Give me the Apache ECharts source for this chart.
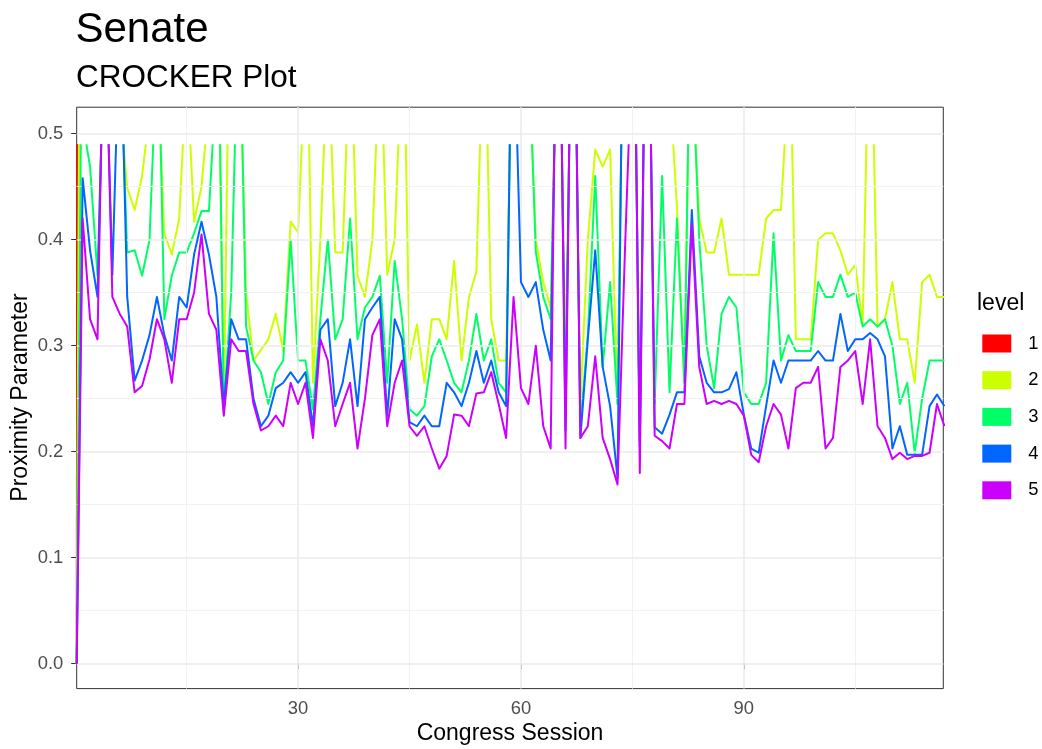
<!DOCTYPE html>
<html>
<head>
<meta charset="utf-8">
<script src="https://cdn.jsdelivr.net/npm/echarts@6/dist/echarts.min.js"></script>
<style>html,body{margin:0;padding:0;background:#fff}#c{width:1042px;height:749px}</style>
</head>
<body>
<div id="c"></div>
<script>
// ---- data ----
const levelNames = ['1', '2', '3', '4', '5'];
const levelColors = ['#FF0000', '#CCFF00', '#00FF66', '#0066FF', '#CC00FF'];
const T = 0.49;               // top of proximity grid (contour leaves the grid above this)
const contourStart = [0.2, 0]; // every contour enters at the left edge, proximity 0
const firstTopExit = [0.3, 0.5, 0.75, 0.5, 0.5]; // session where a level first leaves the top
// threshold per session (sessions 1..117), T = above the grid
const level1 = [T];
const level2 = [T,T,T,T,T,T,0.449,0.428,0.46,T,
  T,0.406,0.386,0.42,T,0.417,0.45,T,T,0.24,
  T,T,0.35,0.286,0.296,0.306,0.33,0.295,0.417,0.407,
  T,0.265,0.40,T,0.388,0.388,T,0.366,0.346,0.40,
  T,0.367,0.40,T,0.286,0.32,0.265,0.325,0.325,0.306,
  0.38,0.286,0.346,0.37,T,0.325,0.286,0.286,T,T,
  T,0.40,0.36,0.336,T,0.29,T,0.245,0.40,0.485,
  0.469,0.485,0.245,T,T,T,T,T,T,T,
  0.43,0.265,T,0.42,0.388,0.388,0.42,0.367,0.367,0.367,
  0.367,0.367,0.42,0.428,0.428,T,0.306,0.306,0.306,0.40,
  0.406,0.406,0.39,0.367,0.376,0.32,T,0.318,0.325,0.36,
  0.306,0.306,0.265,0.36,0.367,0.346,0.346];
const level3 = [T,0.469,0.366,T,T,T,0.388,0.39,0.366,0.40,
  T,0.325,0.366,0.388,0.388,0.406,0.427,0.427,T,0.24,
  0.35,T,0.318,0.286,0.275,0.245,0.275,0.286,0.40,0.286,
  0.286,0.24,0.325,0.40,0.306,0.325,0.42,0.306,0.336,0.346,
  0.366,0.265,0.38,0.325,0.24,0.234,0.243,0.29,0.306,0.286,
  0.265,0.256,0.286,0.33,0.286,0.306,0.265,0.256,T,T,
  T,0.388,0.346,0.325,T,0.256,T,0.224,0.31,0.46,
  0.28,0.36,0.245,T,T,0.21,T,0.245,0.46,0.256,
  0.42,0.265,T,0.40,0.30,0.26,0.33,0.346,0.336,0.256,
  0.245,0.245,0.265,0.406,0.286,0.31,0.295,0.295,0.295,0.36,
  0.346,0.346,0.367,0.346,0.35,0.318,0.325,0.318,0.325,0.30,
  0.245,0.265,0.199,0.25,0.286,0.286,0.286];
const level4 = [0.458,0.39,0.346,T,0.367,T,0.346,0.267,0.286,0.31,
  0.346,0.31,0.286,0.346,0.336,0.386,0.417,0.386,0.346,0.243,
  0.325,0.306,0.306,0.25,0.224,0.234,0.26,0.265,0.275,0.265,
  0.275,0.224,0.315,0.325,0.243,0.265,0.306,0.243,0.325,0.336,
  0.346,0.234,0.325,0.306,0.228,0.224,0.234,0.224,0.224,0.265,
  0.256,0.243,0.265,0.295,0.265,0.286,0.256,0.243,T,0.36,
  0.346,0.36,0.315,0.286,T,0.22,T,0.213,0.306,0.39,
  0.28,0.243,0.175,T,T,0.205,T,0.223,0.217,0.235,
  0.256,0.256,0.428,0.29,0.265,0.256,0.256,0.259,0.275,0.235,
  0.203,0.199,0.243,0.286,0.265,0.286,0.286,0.286,0.286,0.295,
  0.286,0.286,0.33,0.295,0.306,0.306,0.312,0.306,0.29,0.203,
  0.224,0.197,0.197,0.197,0.243,0.254,0.243];
const level5 = [0.42,0.325,0.306,T,0.346,0.33,0.318,0.256,0.262,0.287,
  0.325,0.306,0.265,0.325,0.325,0.35,0.405,0.33,0.315,0.234,
  0.306,0.295,0.295,0.245,0.22,0.224,0.234,0.224,0.265,0.245,
  0.265,0.213,0.306,0.286,0.224,0.245,0.265,0.203,0.25,0.31,
  0.325,0.224,0.265,0.286,0.224,0.215,0.224,0.203,0.184,0.196,
  0.235,0.234,0.224,0.255,0.256,0.275,0.245,0.213,0.346,0.26,
  0.245,0.30,0.224,0.203,T,0.203,T,0.213,0.224,0.29,
  0.213,0.193,0.169,0.39,T,0.18,T,0.215,0.21,0.203,
  0.245,0.245,0.415,0.28,0.245,0.248,0.245,0.248,0.245,0.234,
  0.197,0.19,0.224,0.245,0.235,0.203,0.26,0.265,0.265,0.28,
  0.203,0.213,0.28,0.286,0.295,0.245,0.306,0.224,0.213,0.193,
  0.199,0.193,0.196,0.196,0.199,0.245,0.224];
const levelValues = [level1, level2, level3, level4, level5];

const xTicks = [30, 60, 90];
const xMinor = [15, 45, 75, 105];
const yTicks = [0, 0.1, 0.2, 0.3, 0.4, 0.5];
const yMinor = [0.05, 0.15, 0.25, 0.35, 0.45];
const xRange = [0.2, 116.85];
const yRange = [-0.0235, 0.525];

// ---- build contour paths (break where the contour leaves the top of the grid) ----
function buildPath(vals, k) {
  const pts = [contourStart.slice()];
  let prevTop = false;
  vals.forEach((v, i) => {
    const s = i + 1;
    const top = v >= T;
    if (top) {
      if (!prevTop) { pts.push([s === 1 ? firstTopExit[k] : s - 0.5, T]); pts.push([s, '-']); }
    } else {
      if (prevTop) pts.push([s - 0.5, T]);
      pts.push([s, v]);
    }
    prevTop = top;
  });
  return pts;
}

const FONT = "'Liberation Sans', Arial, Helvetica, sans-serif";
const chart = echarts.init(document.getElementById('c'), null, {renderer: 'canvas', width: 1042, height: 749});

const gridMarks = [].concat(
  yMinor.map(v => ({yAxis: v, lineStyle: {color: '#F2F2F2', width: 1, type: 'solid'}})),
  xMinor.map(v => ({xAxis: v, lineStyle: {color: '#F2F2F2', width: 1, type: 'solid'}})),
  yTicks.map(v => ({yAxis: v, lineStyle: {color: '#EBEBEB', width: 1.6, type: 'solid'}})),
  xTicks.map(v => ({xAxis: v, lineStyle: {color: '#EBEBEB', width: 1.6, type: 'solid'}}))
);

const series = [{
  name: 'grid', type: 'line', data: [], z: 1, silent: true,
  markLine: {symbol: ['none', 'none'], silent: true, animation: false, label: {show: false},
    emphasis: {disabled: true}, data: gridMarks}
}];
levelValues.forEach((vals, k) => {
  series.push({
    name: levelNames[k], type: 'line', data: buildPath(vals, k), z: 2 + k,
    showSymbol: false, symbol: 'none', connectNulls: false, clip: true,
    lineStyle: {color: levelColors[k], width: 2, join: 'round'},
    itemStyle: {color: levelColors[k]},
    emphasis: {disabled: true}
  });
});

const axisLabelStyle = {color: '#4D4D4D', fontSize: 18.4, fontFamily: FONT};
chart.setOption({
  animation: false,
  backgroundColor: '#ffffff',
  grid: {left: 76.7, right: 98.7, top: 107.2, bottom: 60.4, show: true,
    borderColor: '#333333', borderWidth: 1, backgroundColor: 'transparent'},
  xAxis: {type: 'value', min: xRange[0], max: xRange[1],
    axisLine: {show: false},
    axisTick: {show: true, customValues: xTicks, length: 5.5, lineStyle: {color: '#333333', width: 1}},
    axisLabel: Object.assign({customValues: xTicks, margin: 11.5}, axisLabelStyle),
    splitLine: {show: false}},
  yAxis: {type: 'value', min: yRange[0], max: yRange[1],
    axisLine: {show: false},
    axisTick: {show: true, customValues: yTicks, length: 5.5, lineStyle: {color: '#333333', width: 1}},
    axisLabel: Object.assign({customValues: yTicks, margin: 13.4, formatter: v => v.toFixed(1)}, axisLabelStyle),
    splitLine: {show: false}},
  legend: {data: levelNames, orient: 'vertical', left: 982.3, top: 334.5, padding: 0,
    icon: 'rect', itemWidth: 29, itemHeight: 18, itemGap: 18.7, selectedMode: false,
    textStyle: {fontSize: 18.4, fontFamily: FONT, color: '#000', lineHeight: 18, padding: [0, 0, 0, 12]}},
  graphic: [
    {type: 'text', x: 75.5, y: 30.4, silent: true,
      style: {text: 'Senate', font: '42px ' + FONT, fill: '#000', align: 'left', verticalAlign: 'middle', textAlign: 'left', textVerticalAlign: 'middle'}},
    {type: 'text', x: 76, y: 78.6, silent: true,
      style: {text: 'CROCKER Plot', font: '31.5px ' + FONT, fill: '#000', align: 'left', verticalAlign: 'middle', textAlign: 'left', textVerticalAlign: 'middle'}},
    {type: 'text', x: 510, y: 734, silent: true,
      style: {text: 'Congress Session', font: '23px ' + FONT, fill: '#000', align: 'center', verticalAlign: 'middle', textAlign: 'center', textVerticalAlign: 'middle'}},
    {type: 'text', x: 20.2, y: 397.5, rotation: Math.PI / 2, silent: true,
      style: {text: 'Proximity Parameter', font: '23px ' + FONT, fill: '#000', align: 'center', verticalAlign: 'middle', textAlign: 'center', textVerticalAlign: 'middle'}},
    {type: 'text', x: 977, y: 303.5, silent: true,
      style: {text: 'level', font: '23px ' + FONT, fill: '#000', align: 'left', verticalAlign: 'middle', textAlign: 'left', textVerticalAlign: 'middle'}}
  ],
  series: series
});
</script>
</body>
</html>
